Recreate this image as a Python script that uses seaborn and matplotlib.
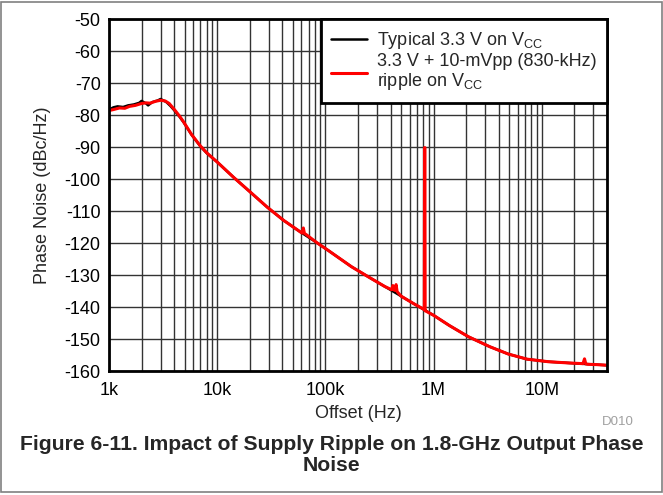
import matplotlib
matplotlib.use("Agg")
import matplotlib.pyplot as plt
import matplotlib.ticker as mticker
from matplotlib.patches import Rectangle
import seaborn as sns
import pandas as pd

# Typical 3.3 V on VCC (black)
freq_typ = [1.0e3, 1.1e3, 1.2e3, 1.35e3, 1.5e3, 1.7e3, 1.9e3, 2.0e3, 2.2e3, 2.3e3, 2.5e3,
            2.8e3, 3.0e3, 3.2e3, 3.4e3, 3.7e3, 4.0e3, 4.5e3, 4.9e3, 5.8e3, 7.0e3, 8.0e3,
            1.0e4, 1.42e4, 2.04e4, 2.9e4, 4.1e4, 5.9e4, 8.5e4, 1.07e5, 1.74e5, 2.5e5, 3.54e5,
            5.0e5, 6.5e5, 8.3e5, 1.0e6, 1.4e6, 2.1e6, 3.3e6, 4.9e6, 7.3e6, 1.15e7, 1.8e7,
            2.5e7, 3.2e7, 4.0e7]
pn_typ = [-78.3, -77.6, -77.3, -77.5, -77.0, -76.7, -76.2, -75.6, -76.4, -77.0, -76.0,
          -75.5, -75.0, -75.5, -76.0, -77.2, -78.5, -80.6, -82.3, -86.2, -89.8, -91.9,
          -94.7, -99.5, -104.2, -108.8, -112.9, -116.6, -120.1, -122.4, -127.4, -130.6, -133.6,
          -136.6, -138.9, -141.0, -142.6, -145.8, -149.3, -152.4, -154.7, -156.3, -157.1, -157.5,
          -157.8, -158.0, -158.2]

# 3.3 V + 10-mVpp (830-kHz) ripple on VCC (red)
freq_rip = [1.0e3, 1.1e3, 1.25e3, 1.4e3, 1.55e3, 1.75e3, 2.0e3, 2.2e3, 2.4e3, 2.7e3, 3.0e3,
            3.3e3, 3.6e3, 4.0e3, 4.5e3, 4.9e3, 5.8e3, 7.0e3, 8.0e3, 1.0e4, 1.42e4, 2.04e4,
            2.9e4, 4.1e4, 5.9e4, 6.1e4, 6.25e4, 6.4e4, 6.6e4, 8.5e4, 1.07e5, 1.74e5, 2.5e5,
            3.54e5, 4.1e5, 4.2e5, 4.35e5, 4.5e5, 4.6e5, 5.0e5, 6.5e5, 8.2e5, 8.25e5, 8.3e5,
            8.35e5, 8.4e5, 1.0e6, 1.4e6, 2.1e6, 3.3e6, 4.9e6, 7.3e6, 1.15e7, 1.8e7, 2.4e7,
            2.48e7, 2.55e7, 2.65e7, 3.2e7, 4.0e7]
pn_rip = [-78.6, -78.3, -77.8, -77.9, -77.3, -77.0, -76.4, -76.2, -76.3, -75.7, -75.4,
          -75.6, -76.4, -78.2, -80.4, -82.2, -86.1, -89.7, -91.8, -94.7, -99.5, -104.2,
          -108.8, -112.9, -116.6, -116.9, -115.3, -117.0, -117.3, -120.1, -122.4, -127.4, -130.6,
          -133.6, -134.6, -133.3, -134.8, -133.0, -135.2, -136.6, -138.9, -140.8, -90.2, -90.2,
          -141.2, -141.2, -142.6, -145.8, -149.3, -152.4, -154.7, -156.3, -157.1, -157.5, -157.7,
          -156.2, -157.8, -157.9, -158.0, -158.2]

series_labels = ["Typical 3.3 V on V$_{\\mathrm{CC}}$",
                 "3.3 V + 10-mVpp (830-kHz)\nripple on V$_{\\mathrm{CC}}$"]
x_ticks = [1e3, 1e4, 1e5, 1e6, 1e7]
x_ticklabels = ["1k", "10k", "100k", "1M", "10M"]
y_ticks = list(range(-160, -49, 10))

sns.set_style("white")
plt.rcParams["font.family"] = ["Liberation Sans", "DejaVu Sans"]
plt.rcParams["mathtext.fontset"] = "custom"
plt.rcParams["mathtext.rm"] = "Liberation Sans"
plt.rcParams["axes.unicode_minus"] = False

fig = plt.figure(figsize=(6.63, 4.95), dpi=100)
ax = fig.add_axes([0.1644, 0.2505, 0.7511, 0.7111])

df_typ = pd.DataFrame({"f": freq_typ, "pn": pn_typ})
df_rip = pd.DataFrame({"f": freq_rip, "pn": pn_rip})
sns.lineplot(data=df_typ, x="f", y="pn", ax=ax, color="black", lw=1.8,
             estimator=None, sort=False, label=series_labels[0])
sns.lineplot(data=df_rip, x="f", y="pn", ax=ax, color="#ff0000", lw=2.2,
             estimator=None, sort=False, label=series_labels[1])

ax.set_xscale("log")
ax.set_xlim(1e3, 4e7)
ax.set_ylim(-160, -50)
ax.set_xticks(x_ticks)
ax.set_xticklabels(x_ticklabels)
ax.xaxis.set_minor_locator(mticker.LogLocator(base=10, subs=range(2, 10), numticks=20))
ax.xaxis.set_minor_formatter(mticker.NullFormatter())
ax.set_yticks(y_ticks)
ax.tick_params(axis="both", which="both", length=0, labelsize=13, colors="black")
ax.tick_params(axis="x", pad=8)
ax.tick_params(axis="y", pad=6)

ax.xaxis.grid(True, which="both", color="#333333", lw=1.0)
ax.yaxis.grid(True, which="major", color="#333333", lw=1.0)
ax.set_axisbelow(True)
for sp in ax.spines.values():
    sp.set_visible(True)
    sp.set_color("black")
    sp.set_linewidth(2)

ax.set_xlabel("Offset (Hz)", fontsize=13, labelpad=4)
ax.set_ylabel("Phase Noise (dBc/Hz)", fontsize=13, labelpad=10)

leg = ax.legend(loc="upper right", borderaxespad=0, fontsize=13, fancybox=False,
                framealpha=1, edgecolor="black", handlelength=1.95, handletextpad=0.55,
                labelspacing=0.12, borderpad=0.6)
leg.get_frame().set_linewidth(2)
leg.get_frame().set_facecolor("white")
for t in leg.get_texts():
    t.set_linespacing(1.05)

fig.text(0.932, 0.1475, "D010", fontsize=9.5, color="#a0a0a0", ha="center", va="center")
fig.text(0.5, 0.081, "Figure 6-11. Impact of Supply Ripple on 1.8-GHz Output Phase\nNoise",
         fontsize=15.2, fontweight="bold", ha="center", va="center", linespacing=1.1)

fig.patches.append(Rectangle((0.002, 0.006), 0.996, 0.99, transform=fig.transFigure,
                             fill=False, edgecolor="#808080", lw=1.2))

fig.savefig("out.png", dpi=100)
